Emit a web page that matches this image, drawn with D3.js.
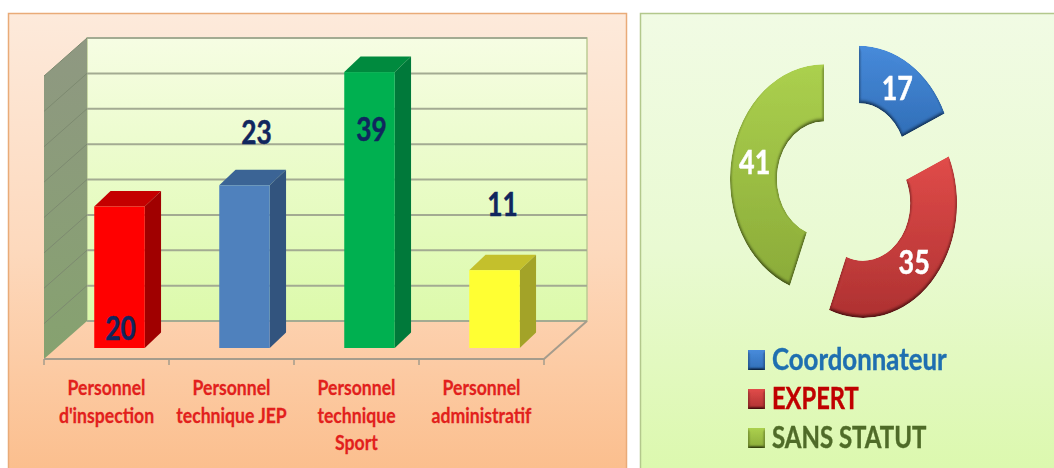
<!DOCTYPE html>
<html>
<head>
<meta charset="utf-8">
<script src="https://cdn.jsdelivr.net/npm/d3@7"></script>
<style>
  html, body { margin: 0; padding: 0; background: #fff; overflow: hidden; }
  svg { display: block; filter: blur(0.45px); }
  text { font-family: Lato, "Liberation Sans", sans-serif; font-weight: bold; }
</style>
</head>
<body>
<div id="chart"></div>
<script>
var barCategories = [["Personnel", "d'inspection"], ["Personnel", "technique JEP"], ["Personnel", "technique", "Sport"], ["Personnel", "administratif"]];
var barValues = [20, 23, 39, 11];
var barFront = ["#ff0000", "#4f81bd", "#00b050", "#ffff33"];
var barTop = ["#c40000", "#3b6495", "#008a3e", "#c4c02c"];
var barSide = ["#a00000", "#32547e", "#00793a", "#a3a328"];
var barLabelDx = [1, 12, 2, 8];

var pieNames = ["Coordonnateur", "EXPERT", "SANS STATUT"];
var pieValues = [17, 35, 41];
var pieLight = ["#4688d6", "#dc4a48", "#a8cc4c"];
var pieDark = ["#2f6cb4", "#ab3030", "#88a838"];
var legendColors = ["#1f6fb0", "#c00000", "#4f6b28"];
var legendSqueeze = [0.86, 0.79, 0.8];

var width = 1054, height = 468;

var svg = d3.select("#chart").append("svg")
    .attr("width", width)
    .attr("height", height);

var defs = svg.append("defs");

function vGrad(id, stops) {
  var g = defs.append("linearGradient").attr("id", id)
      .attr("x1", 0).attr("y1", 0).attr("x2", 0).attr("y2", 1);
  stops.forEach(function(s, i) {
    g.append("stop").attr("offset", i / (stops.length - 1)).attr("stop-color", s);
  });
}
vGrad("panelL", ["#fdeadb", "#fdd9bd", "#fbbd8b"]);
vGrad("panelR", ["#f1fbe4", "#e9fad2", "#dbf8ac"]);
vGrad("wallBack", ["#f6fde3", "#dcfaab"]);
vGrad("wallSide", ["#8f9882", "#86a26f"]);
pieLight.forEach(function(c, i) { vGrad("slice" + i, [c, pieDark[i]]); });

// bevel on the donut slices and the legend squares
var bevel = defs.append("filter").attr("id", "bevel")
    .attr("x", "-10%").attr("y", "-10%").attr("width", "120%").attr("height", "120%");
bevel.append("feGaussianBlur").attr("in", "SourceAlpha").attr("stdDeviation", 1.8).attr("result", "blur");
var light = bevel.append("feDiffuseLighting").attr("in", "blur").attr("surfaceScale", 3)
    .attr("diffuseConstant", 1.15).attr("lighting-color", "#fff").attr("result", "lit");
light.append("feDistantLight").attr("azimuth", 270).attr("elevation", 62);
bevel.append("feComposite").attr("in", "lit").attr("in2", "SourceGraphic")
    .attr("operator", "arithmetic").attr("k1", 1.05).attr("k2", 0).attr("k3", 0).attr("k4", 0)
    .attr("result", "shaded");
bevel.append("feComposite").attr("in", "shaded").attr("in2", "SourceAlpha").attr("operator", "in");

// the source picture is stretched and set in a narrow face, Lato gets squeezed to match
function squeezed(px, py, sx) {
  return "translate(" + px + "," + py + ") scale(" + sx + ",1)";
}

// panels
svg.append("rect").attr("x", 8.5).attr("y", 13.5).attr("width", 618).attr("height", 470)
    .attr("fill", "url(#panelL)").attr("stroke", "#e9ab78").attr("stroke-width", 1.5);
svg.append("rect").attr("x", 640.5).attr("y", 13.5).attr("width", 430).attr("height", 470)
    .attr("fill", "url(#panelR)").attr("stroke", "#b3c88c").attr("stroke-width", 1.5);

// ---- 3d columns ----
var wall = {left: 87, right: 587, top: 38, bottom: 321, dx: -43, dy: 38};
var y = d3.scaleLinear().domain([0, 40]).range([wall.bottom, wall.top]);
var x = d3.scaleBand().domain(d3.range(barValues.length))
    .range([wall.left + wall.dx, wall.right + wall.dx]);
var barW = 50.5, depthX = 16.3, depthY = 15.5, floorY = wall.bottom + 27;
var barShift = 13 - barW / 2;

svg.append("rect").attr("x", wall.left).attr("y", wall.top)
    .attr("width", wall.right - wall.left).attr("height", wall.bottom - wall.top)
    .attr("fill", "url(#wallBack)").attr("stroke", "#bccb94").attr("stroke-width", 1.5);

svg.append("path")
    .attr("d", d3.line()([[wall.left, wall.top], [wall.left, wall.bottom],
      [wall.left + wall.dx, wall.bottom + wall.dy], [wall.left + wall.dx, wall.top + wall.dy]]) + "Z")
    .attr("fill", "url(#wallSide)");

var ticks = y.ticks(8);

svg.selectAll(".grid").data(ticks).enter().append("line")
    .attr("class", "grid")
    .attr("x1", wall.left).attr("x2", wall.right)
    .attr("y1", y).attr("y2", y)
    .attr("stroke", "#a3ab92").attr("stroke-width", 2);

svg.selectAll(".gridSide").data(ticks.slice(1)).enter().append("line")
    .attr("class", "gridSide")
    .attr("x1", wall.left).attr("x2", wall.left + wall.dx)
    .attr("y1", y).attr("y2", function(d) { return y(d) + wall.dy; })
    .attr("stroke", "#7d8a70").attr("stroke-width", 1);

// floor edges
svg.append("path")
    .attr("d", d3.line()([[wall.left + wall.dx, wall.bottom + wall.dy],
      [wall.right + wall.dx, wall.bottom + wall.dy], [wall.right, wall.bottom]]))
    .attr("fill", "none").attr("stroke", "#a59c8c").attr("stroke-width", 2);

svg.selectAll(".tick").data(d3.range(barValues.length + 1)).enter().append("line")
    .attr("class", "tick")
    .attr("x1", function(d) { return wall.left + wall.dx + d * x.step(); })
    .attr("x2", function(d) { return wall.left + wall.dx + d * x.step(); })
    .attr("y1", wall.bottom + wall.dy).attr("y2", wall.bottom + wall.dy + 6)
    .attr("stroke", "#a59c8c").attr("stroke-width", 1.5);

var bars = svg.selectAll(".bar").data(barValues).enter().append("g").attr("class", "bar");

function barX(i) { return x(i) + x.bandwidth() / 2 + barShift; }
function barTopY(d) { return floorY - (wall.bottom - y(d)); }

bars.append("path")
    .attr("d", function(d, i) {
      var l = barX(i), t = barTopY(d);
      return d3.line()([[l, t], [l + barW, t], [l + barW + depthX, t - depthY], [l + depthX, t - depthY]]) + "Z";
    })
    .attr("fill", function(d, i) { return barTop[i]; });

bars.append("path")
    .attr("d", function(d, i) {
      var r = barX(i) + barW, t = barTopY(d);
      return d3.line()([[r, t], [r + depthX, t - depthY], [r + depthX, floorY - depthY], [r, floorY]]) + "Z";
    })
    .attr("fill", function(d, i) { return barSide[i]; });

bars.append("rect")
    .attr("x", function(d, i) { return barX(i); })
    .attr("y", barTopY)
    .attr("width", barW)
    .attr("height", function(d) { return wall.bottom - y(d); })
    .attr("fill", function(d, i) { return barFront[i]; });

// value labels sit where the original author dragged them
var barLabelY = [340, 144, 141, 216];
svg.selectAll(".barLabel").data(barValues).enter().append("text")
    .attr("class", "barLabel")
    .attr("transform", function(d, i) { return squeezed(barX(i) + barW / 2 + barLabelDx[i], barLabelY[i], 0.82); })
    .attr("text-anchor", "middle")
    .attr("font-size", 32)
    .attr("fill", "#10265e")
    .attr("stroke", "#10265e")
    .attr("stroke-width", 0.5)
    .text(function(d) { return d; });

var catLines = [];
barCategories.forEach(function(lines, i) {
  lines.forEach(function(t, j) { catLines.push({t: t, i: i, j: j}); });
});

svg.selectAll(".cat").data(catLines).enter().append("text")
    .attr("class", "cat")
    .attr("transform", function(d) { return squeezed(x(d.i) + x.bandwidth() / 2, 395 + d.j * 27.5, 0.86); })
    .attr("text-anchor", "middle")
    .attr("font-size", 20.5)
    .attr("fill", "#e2201c")
    .attr("stroke", "#e2201c")
    .attr("stroke-width", 0.25)
    .text(function(d) { return d.t; });

// ---- exploded donut ----
var outerR = 94, innerR = 47, explode = 22.9, squash = 1.22;
var pieCx = 846.5, pieCy = 184;

var pie = d3.pie().sort(null).value(function(d) { return d; });
var arc = d3.arc().innerRadius(innerR).outerRadius(outerR);

var slices = svg.selectAll(".slice").data(pie(pieValues)).enter().append("g")
    .attr("class", "slice")
    .attr("transform", function(d) {
      var mid = (d.startAngle + d.endAngle) / 2;
      return "translate(" + (pieCx + Math.sin(mid) * explode) + "," +
        (pieCy - Math.cos(mid) * explode * squash) + ") scale(1," + squash + ")";
    });

slices.append("path")
    .attr("d", arc)
    .attr("fill", function(d, i) { return "url(#slice" + i + ")"; })
    .attr("filter", "url(#bevel)");

svg.selectAll(".pieLabel").data(pie(pieValues)).enter().append("text")
    .attr("class", "pieLabel")
    .attr("transform", function(d) {
      var mid = (d.startAngle + d.endAngle) / 2, c = arc.centroid(d);
      return squeezed(pieCx + Math.sin(mid) * explode + c[0],
        pieCy - Math.cos(mid) * explode * squash + c[1] * squash + 11.5, 0.84);
    })
    .attr("text-anchor", "middle")
    .attr("font-size", 32)
    .attr("fill", "#fff")
    .attr("stroke", "#fff")
    .attr("stroke-width", 0.5)
    .text(function(d) { return d.data; });

// legend
var legendY = d3.scalePoint().domain(pieNames).range([370, 448]);

var legend = svg.selectAll(".legend").data(pieNames).enter().append("g").attr("class", "legend");

legend.append("rect")
    .attr("x", 748).attr("y", function(d) { return legendY(d) - 20; })
    .attr("width", 17).attr("height", 20)
    .attr("fill", function(d, i) { return "url(#slice" + i + ")"; })
    .attr("filter", "url(#bevel)");

legend.append("text")
    .attr("transform", function(d, i) { return squeezed(772, legendY(d), legendSqueeze[i]); })
    .attr("font-size", 30)
    .attr("fill", function(d, i) { return legendColors[i]; })
    .attr("stroke", function(d, i) { return legendColors[i]; })
    .attr("stroke-width", 0.4)
    .text(function(d) { return d; });
</script>
</body>
</html>
